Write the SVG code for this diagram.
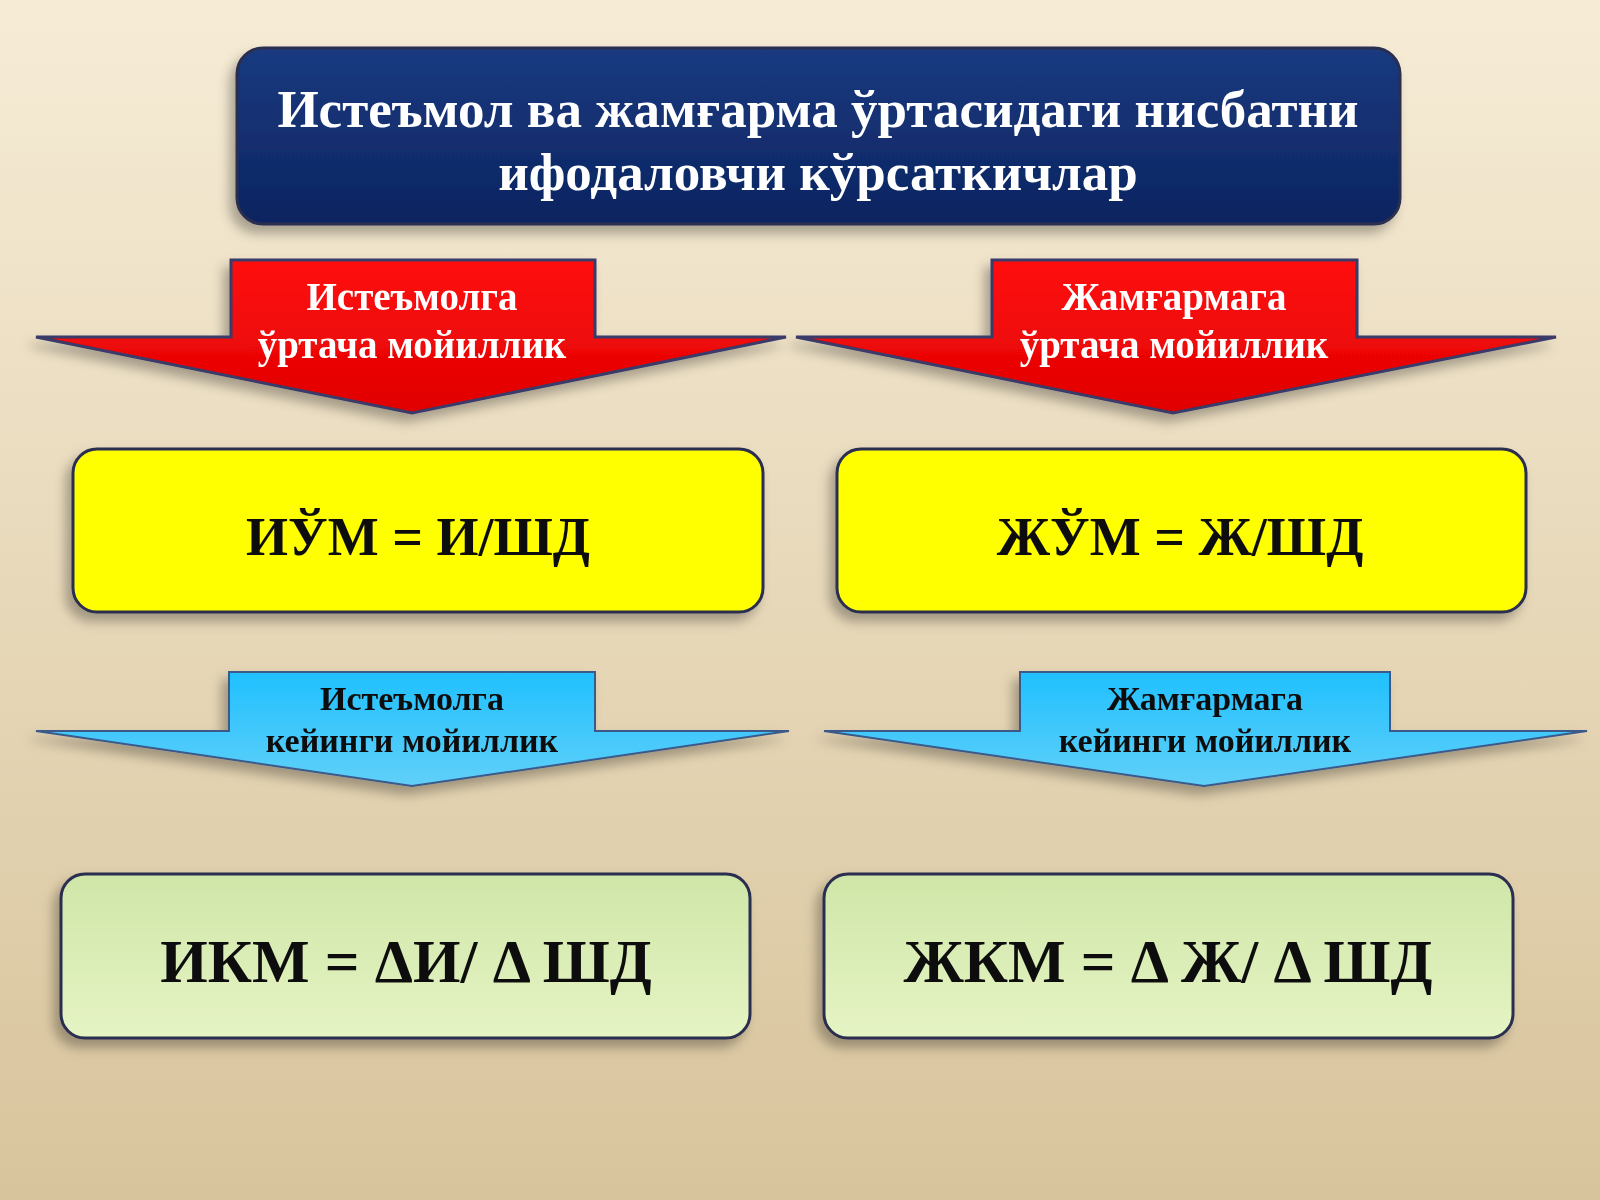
<svg xmlns="http://www.w3.org/2000/svg" width="1600" height="1200" viewBox="0 0 1600 1200">
<defs>
<linearGradient id="bg" x1="0" y1="0" x2="0" y2="1"><stop offset="0" stop-color="#f6ecd6"/><stop offset="1" stop-color="#d8c49c"/></linearGradient>
<linearGradient id="navy" x1="0" y1="0" x2="0" y2="1"><stop offset="0" stop-color="#1a3a80"/><stop offset="1" stop-color="#0c2460"/></linearGradient>
<linearGradient id="red" x1="0" y1="0" x2="0" y2="1"><stop offset="0" stop-color="#ff1010"/><stop offset="1" stop-color="#e00000"/></linearGradient>
<linearGradient id="blue" x1="0" y1="0" x2="0" y2="1"><stop offset="0" stop-color="#20c0ff"/><stop offset="1" stop-color="#60d0f8"/></linearGradient>
<linearGradient id="green" x1="0" y1="0" x2="0" y2="1"><stop offset="0" stop-color="#cfe6a8"/><stop offset="1" stop-color="#e6f4c4"/></linearGradient>
<filter id="sh" x="-10%" y="-10%" width="120%" height="130%"><feDropShadow dx="-6" dy="8" stdDeviation="6" flood-color="#000" flood-opacity="0.3"/></filter>
</defs>
<style>
.t{font-family:"Liberation Serif","DejaVu Serif",serif;font-weight:bold;text-anchor:middle}
.box{stroke:#2a2e50;stroke-width:3}
</style>
<rect width="1600" height="1200" fill="url(#bg)"/>
<g id="title" filter="url(#sh)">
<rect class="box" x="237" y="48" width="1163" height="176" rx="26" fill="url(#navy)"/>
<text class="t" x="818" y="127" font-size="53" fill="#fff">Истеъмол ва жамғарма ўртасидаги нисбатни</text>
<text class="t" x="818" y="190" font-size="53" fill="#fff">ифодаловчи кўрсаткичлар</text>
</g>
<g id="arrow-red-left" filter="url(#sh)">
<polygon points="231,260 595,260 595,337 786,337 412,413 36,337 231,337" fill="url(#red)" stroke="#3a3a6a" stroke-width="3"/>
<text class="t" x="412" y="310" font-size="39" fill="#fff">Истеъмолга</text>
<text class="t" x="412" y="358" font-size="39" fill="#fff">ўртача мойиллик</text>
</g>
<g id="arrow-red-right" filter="url(#sh)">
<polygon points="992,260 1357,260 1357,337 1556,337 1173,413 796,337 992,337" fill="url(#red)" stroke="#3a3a6a" stroke-width="3"/>
<text class="t" x="1174" y="310" font-size="39" fill="#fff">Жамғармага</text>
<text class="t" x="1174" y="358" font-size="39" fill="#fff">ўртача мойиллик</text>
</g>
<g id="box-ium" filter="url(#sh)">
<rect class="box" x="73" y="449" width="690" height="163" rx="24" fill="#ffff00"/>
<text class="t" x="418" y="555" font-size="54" fill="#111">ИЎМ = И/ШД</text>
</g>
<g id="box-zhum" filter="url(#sh)">
<rect class="box" x="837" y="449" width="689" height="163" rx="24" fill="#ffff00"/>
<text class="t" x="1180" y="555" font-size="54" fill="#111">ЖЎМ = Ж/ШД</text>
</g>
<g id="arrow-blue-left" filter="url(#sh)">
<polygon points="229,672 595,672 595,731 789,731 412,786 36,731 229,731" fill="url(#blue)" stroke="#3a5a8a" stroke-width="2"/>
<text class="t" x="412" y="710" font-size="34" fill="#111">Истеъмолга</text>
<text class="t" x="412" y="752" font-size="34" fill="#111">кейинги мойиллик</text>
</g>
<g id="arrow-blue-right" filter="url(#sh)">
<polygon points="1020,672 1390,672 1390,731 1587,731 1204,786 824,731 1020,731" fill="url(#blue)" stroke="#3a5a8a" stroke-width="2"/>
<text class="t" x="1205" y="710" font-size="34" fill="#111">Жамғармага</text>
<text class="t" x="1205" y="752" font-size="34" fill="#111">кейинги мойиллик</text>
</g>
<g id="box-ikm" filter="url(#sh)">
<rect class="box" x="61" y="874" width="689" height="164" rx="24" fill="url(#green)"/>
<text class="t" x="406" y="982" font-size="61" fill="#111">ИКМ = ΔИ/ Δ ШД</text>
</g>
<g id="box-zhkm" filter="url(#sh)">
<rect class="box" x="824" y="874" width="689" height="164" rx="24" fill="url(#green)"/>
<text class="t" x="1168" y="982" font-size="61" fill="#111">ЖКМ = Δ Ж/ Δ ШД</text>
</g>
<g id="connectors"/>
</svg>
